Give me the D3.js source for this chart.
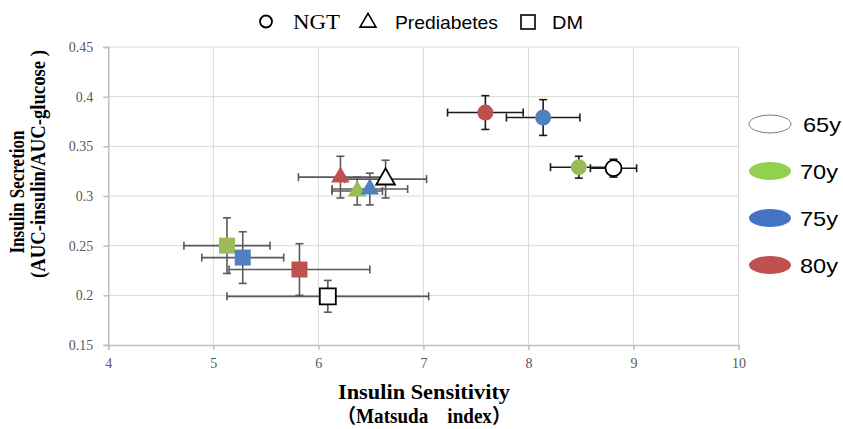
<!DOCTYPE html>
<html>
<head>
<meta charset="utf-8">
<script src="https://cdnjs.cloudflare.com/ajax/libs/d3/7.8.5/d3.min.js"></script>
<style>
  body { margin: 0; background: #fff; }
  svg { display: block; }
</style>
</head>
<body>
<svg width="843" height="429"></svg>
<script>
// ages (legend on the right) and their colours
const ages = ['65y', '70y', '75y', '80y'];
const ageColors = ['#ffffff', '#9bbb59', '#4f81bd', '#c0504d'];
const legendColors = ['#ffffff', '#92d050', '#4472c4', '#c0504d'];

// NGT (circles)
const ngtX = [8.81, 8.48, 8.14, 7.59];
const ngtY = [0.328, 0.329, 0.379, 0.384];
const ngtXErr = [0.22, 0.27, 0.35, 0.36];
const ngtYErr = [0.009, 0.011, 0.018, 0.017];

// Prediabetes (triangles)
const preX = [6.64, 6.37, 6.49, 6.21];
const preY = [0.317, 0.305, 0.307, 0.319];
const preXErr = [0.39, 0.24, 0.36, 0.40];
const preYErr = [0.019, 0.014, 0.016, 0.021];

// DM (squares)
const dmX = [6.09, 5.13, 5.28, 5.82];
const dmY = [0.199, 0.250, 0.238, 0.226];
const dmXErr = [0.96, 0.41, 0.39, 0.67];
const dmYErr = [0.016, 0.028, 0.026, 0.026];

const xTicks = [4, 5, 6, 7, 8, 9, 10];
const yTicks = [0.15, 0.2, 0.25, 0.3, 0.35, 0.4, 0.45];

const groups = [
  { name: 'NGT', shape: 'circle', x: ngtX, y: ngtY, xe: ngtXErr, ye: ngtYErr, bar: '#1a1a1a' },
  { name: 'Prediabetes', shape: 'triangle', x: preX, y: preY, xe: preXErr, ye: preYErr, bar: '#595959' },
  { name: 'DM', shape: 'square', x: dmX, y: dmY, xe: dmXErr, ye: dmYErr, bar: '#595959' }
];

const svg = d3.select('svg');
const serif = '"Liberation Serif", "Times New Roman", serif';
const sans = '"Liberation Sans", Arial, sans-serif';

const x = d3.scaleLinear().domain([4, 10]).range([108.3, 738.5]);
const y = d3.scaleLinear().domain([0.15, 0.45]).range([345, 47]);

// gridlines
svg.append('g')
  .selectAll('line')
  .data(xTicks.slice(1))
  .enter().append('line')
  .attr('x1', d => x(d)).attr('x2', d => x(d))
  .attr('y1', y(0.45)).attr('y2', y(0.15))
  .attr('stroke', '#d9d9d9').attr('stroke-width', 1);

svg.append('g')
  .selectAll('line')
  .data(yTicks.slice(1))
  .enter().append('line')
  .attr('x1', x(4)).attr('x2', x(10))
  .attr('y1', d => y(d)).attr('y2', d => y(d))
  .attr('stroke', '#d9d9d9').attr('stroke-width', 1);

// axes
const xAxis = svg.append('g')
  .attr('transform', `translate(0,${y(0.15)})`)
  .call(d3.axisBottom(x).tickValues(xTicks).tickSize(5).tickPadding(8).tickFormat(d3.format('d')));
const yAxis = svg.append('g')
  .attr('transform', `translate(${x(4)},0)`)
  .call(d3.axisLeft(y).tickValues(yTicks).tickSize(5).tickPadding(10).tickFormat(d => String(+d.toFixed(2))));

[xAxis, yAxis].forEach(ax => {
  ax.select('.domain').attr('stroke', '#bfbfbf').attr('stroke-width', 1.5);
  ax.selectAll('.tick line').attr('stroke', '#bfbfbf').attr('stroke-width', 1.5);
  ax.selectAll('.tick text')
    .attr('fill', '#595959')
    .style('font-family', serif)
    .style('font-size', '14px');
});

// error bars
const cap = 4;
groups.forEach(g => {
  const pts = g.x.map((v, i) => ({ x: v, y: g.y[i], xe: g.xe[i], ye: g.ye[i] }));
  const eb = svg.append('g')
    .attr('stroke', g.bar)
    .attr('stroke-width', 1.6)
    .attr('fill', 'none');
  const sel = eb.selectAll('g').data(pts).enter().append('g');
  sel.append('line')
    .attr('x1', d => x(d.x - d.xe)).attr('x2', d => x(d.x + d.xe))
    .attr('y1', d => y(d.y)).attr('y2', d => y(d.y));
  sel.append('line')
    .attr('x1', d => x(d.x - d.xe)).attr('x2', d => x(d.x - d.xe))
    .attr('y1', d => y(d.y) - cap).attr('y2', d => y(d.y) + cap);
  sel.append('line')
    .attr('x1', d => x(d.x + d.xe)).attr('x2', d => x(d.x + d.xe))
    .attr('y1', d => y(d.y) - cap).attr('y2', d => y(d.y) + cap);
  sel.append('line')
    .attr('x1', d => x(d.x)).attr('x2', d => x(d.x))
    .attr('y1', d => y(d.y - d.ye)).attr('y2', d => y(d.y + d.ye));
  sel.append('line')
    .attr('x1', d => x(d.x) - cap).attr('x2', d => x(d.x) + cap)
    .attr('y1', d => y(d.y - d.ye)).attr('y2', d => y(d.y - d.ye));
  sel.append('line')
    .attr('x1', d => x(d.x) - cap).attr('x2', d => x(d.x) + cap)
    .attr('y1', d => y(d.y + d.ye)).attr('y2', d => y(d.y + d.ye));
});

// markers
const symbols = {
  circle: d3.symbol().type(d3.symbolCircle).size(Math.PI * 8 * 8),
  triangle: d3.symbol().type(d3.symbolTriangle).size(150),
  square: d3.symbol().type(d3.symbolSquare).size(16 * 16)
};
groups.forEach(g => {
  svg.append('g')
    .selectAll('path')
    .data(g.x.map((v, i) => ({ x: v, y: g.y[i], i: i })))
    .enter().append('path')
    .attr('d', symbols[g.shape])
    .attr('transform', d => `translate(${x(d.x)},${y(d.y)})`)
    .attr('fill', d => ageColors[d.i])
    .attr('stroke', d => d.i === 0 ? '#000' : 'none')
    .attr('stroke-width', 1.8);
});

// top legend (shapes)
const shapeLegend = svg.append('g');
shapeLegend.append('circle').attr('cx', 266).attr('cy', 21.5).attr('r', 6)
  .attr('fill', 'none').attr('stroke', '#000').attr('stroke-width', 1.8);
shapeLegend.append('text').attr('x', 293).attr('y', 29).text('NGT')
  .style('font-family', serif).style('font-size', '20px')
  .attr('textLength', 47).attr('lengthAdjust', 'spacingAndGlyphs');
shapeLegend.append('path')
  .attr('d', d3.symbol().type(d3.symbolTriangle).size(110))
  .attr('transform', 'translate(368,22.5)')
  .attr('fill', 'none').attr('stroke', '#000').attr('stroke-width', 1.6);
shapeLegend.append('text').attr('x', 395).attr('y', 29).text('Prediabetes')
  .style('font-family', sans).style('font-size', '19px')
  .attr('textLength', 103).attr('lengthAdjust', 'spacingAndGlyphs');
shapeLegend.append('rect').attr('x', 521).attr('y', 15).attr('width', 14).attr('height', 14)
  .attr('fill', 'none').attr('stroke', '#000').attr('stroke-width', 1.6);
shapeLegend.append('text').attr('x', 552).attr('y', 29).text('DM')
  .style('font-family', sans).style('font-size', '19px')
  .attr('textLength', 31).attr('lengthAdjust', 'spacingAndGlyphs');

// right legend (ages)
const ageY = [124, 171, 218, 265];
const leg = svg.append('g')
  .selectAll('g')
  .data(ages)
  .enter().append('g')
  .attr('transform', (d, i) => `translate(770,${ageY[i]})`);
leg.append('ellipse')
  .attr('rx', 21).attr('ry', 9)
  .attr('fill', (d, i) => legendColors[i])
  .attr('stroke', (d, i) => i === 0 ? '#7f7f7f' : 'none')
  .attr('stroke-width', 1);
leg.append('text')
  .attr('x', (d, i) => i === 0 ? 33 : 30)
  .attr('y', 8)
  .text(d => d)
  .style('font-family', sans).style('font-size', '21px')
  .attr('textLength', 38).attr('lengthAdjust', 'spacingAndGlyphs');

// axis titles
svg.append('text')
  .attr('x', 424).attr('y', 399)
  .attr('text-anchor', 'middle')
  .text('Insulin Sensitivity')
  .style('font-family', serif).style('font-weight', 'bold').style('font-size', '20px')
  .attr('textLength', 172).attr('lengthAdjust', 'spacingAndGlyphs');
svg.append('text')
  .attr('x', 424).attr('y', 423)
  .attr('text-anchor', 'middle')
  .text('（Matsuda\u3000index）')
  .style('font-family', serif + ', "Noto Sans CJK JP"').style('font-weight', 'bold').style('font-size', '20px')
  .attr('textLength', 174).attr('lengthAdjust', 'spacingAndGlyphs');

svg.append('text')
  .attr('transform', 'translate(24,192) rotate(-90)')
  .attr('text-anchor', 'middle')
  .text('Insulin Secretion')
  .style('font-family', serif).style('font-weight', 'bold').style('font-size', '20px')
  .attr('textLength', 123).attr('lengthAdjust', 'spacingAndGlyphs');
svg.append('text')
  .attr('transform', 'translate(45,164) rotate(-90)')
  .attr('text-anchor', 'middle')
  .text('(AUC-insulin/AUC-glucose )')
  .style('font-family', serif).style('font-weight', 'bold').style('font-size', '20px')
  .attr('textLength', 228).attr('lengthAdjust', 'spacingAndGlyphs');
</script>
</body>
</html>
